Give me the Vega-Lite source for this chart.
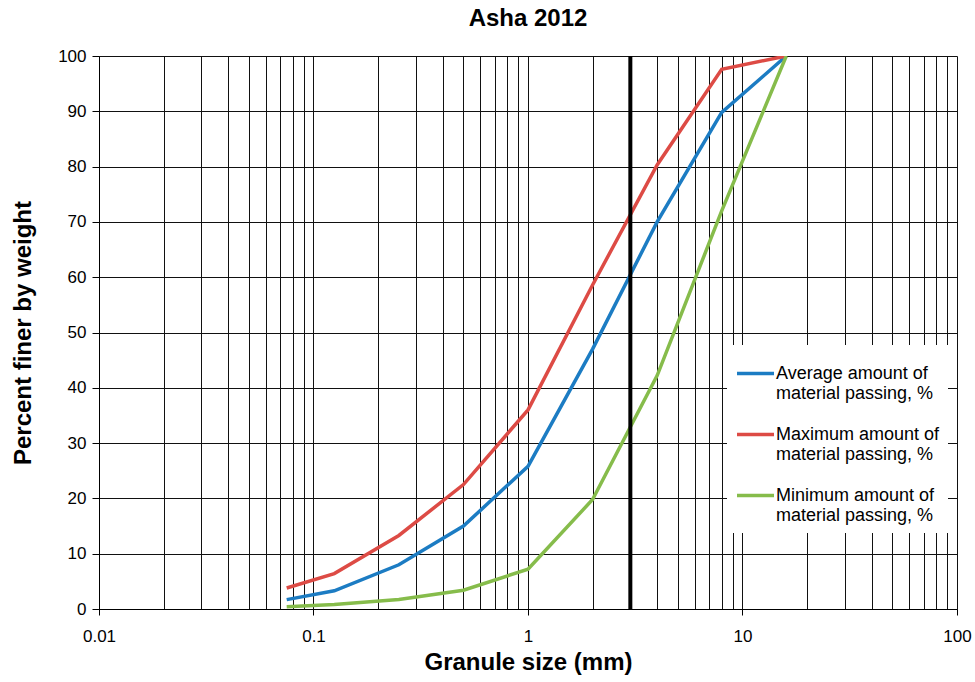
{
  "$schema": "https://vega.github.io/schema/vega-lite/v6.json",
  "width": 858,
  "height": 553,
  "autosize": {"type": "none"},
  "padding": {"left": 99, "top": 56, "right": 18, "bottom": 73},
  "background": "white",
  "title": {"text": "Asha 2012", "fontSize": 24, "font": "Liberation Sans", "fontWeight": "bold", "color": "#000", "offset": 16},
  "config": {
    "font": "Liberation Sans",
    "view": {"stroke": null},
    "axis": {"labelFont": "Liberation Sans", "titleFont": "Liberation Sans", "labelColor": "#000", "titleColor": "#000", "labelFontSize": 17, "titleFontSize": 24, "titleFontWeight": "bold", "domainColor": "#000", "tickColor": "#000", "gridColor": "#111", "gridOpacity": 1, "gridWidth": 1}
  },
  "datasets": {
    "curves": [
      {"size": 0.075, "pct": 1.7, "series": "Average amount of material passing, %"},
      {"size": 0.125, "pct": 3.3, "series": "Average amount of material passing, %"},
      {"size": 0.25, "pct": 8.0, "series": "Average amount of material passing, %"},
      {"size": 0.5, "pct": 15.0, "series": "Average amount of material passing, %"},
      {"size": 1, "pct": 25.8, "series": "Average amount of material passing, %"},
      {"size": 2, "pct": 47.0, "series": "Average amount of material passing, %"},
      {"size": 4, "pct": 70.0, "series": "Average amount of material passing, %"},
      {"size": 8, "pct": 89.8, "series": "Average amount of material passing, %"},
      {"size": 16, "pct": 100, "series": "Average amount of material passing, %"},
      {"size": 0.075, "pct": 3.8, "series": "Maximum amount of material passing, %"},
      {"size": 0.125, "pct": 6.4, "series": "Maximum amount of material passing, %"},
      {"size": 0.25, "pct": 13.3, "series": "Maximum amount of material passing, %"},
      {"size": 0.5, "pct": 22.5, "series": "Maximum amount of material passing, %"},
      {"size": 1, "pct": 36.0, "series": "Maximum amount of material passing, %"},
      {"size": 2, "pct": 58.6, "series": "Maximum amount of material passing, %"},
      {"size": 4, "pct": 80.3, "series": "Maximum amount of material passing, %"},
      {"size": 8, "pct": 97.6, "series": "Maximum amount of material passing, %"},
      {"size": 16, "pct": 100, "series": "Maximum amount of material passing, %"},
      {"size": 0.075, "pct": 0.4, "series": "Minimum amount of material passing, %"},
      {"size": 0.125, "pct": 0.8, "series": "Minimum amount of material passing, %"},
      {"size": 0.25, "pct": 1.7, "series": "Minimum amount of material passing, %"},
      {"size": 0.5, "pct": 3.4, "series": "Minimum amount of material passing, %"},
      {"size": 1, "pct": 7.2, "series": "Minimum amount of material passing, %"},
      {"size": 2, "pct": 19.8, "series": "Minimum amount of material passing, %"},
      {"size": 4, "pct": 42.2, "series": "Minimum amount of material passing, %"},
      {"size": 8, "pct": 72.0, "series": "Minimum amount of material passing, %"},
      {"size": 16, "pct": 100, "series": "Minimum amount of material passing, %"}
    ],
    "marker": [{"size": 3}]
  },
  "layer": [
    {
      "data": {"name": "curves"},
      "mark": {"type": "line", "strokeWidth": 3.5, "clip": true},
      "encoding": {
        "x": {
          "field": "size", "type": "quantitative",
          "scale": {"type": "log", "domain": [0.01, 100], "nice": false},
          "axis": {
            "title": "Granule size (mm)",
            "values": [0.01,0.02,0.03,0.04,0.05,0.06,0.07,0.08,0.09,0.1,0.2,0.3,0.4,0.5,0.6,0.7,0.8,0.9,1,2,3,4,5,6,7,8,9,10,20,30,40,50,60,70,80,90,100],
            "format": "~g",
            "labelExpr": "abs(log(datum.value)/LN10 - round(log(datum.value)/LN10)) < 1e-6 ? datum.label : ''",
            "tickOpacity": {"condition": {"test": "abs(log(datum.value)/LN10 - round(log(datum.value)/LN10)) < 1e-6", "value": 1}, "value": 0},
            "tickSize": 6,
            "labelPadding": 13,
            "titlePadding": 6,
            "labelFlush": false,
            "labelOverlap": false
          }
        },
        "y": {
          "field": "pct", "type": "quantitative",
          "scale": {"domain": [0, 100], "nice": false},
          "axis": {"title": "Percent finer by weight", "values": [0,10,20,30,40,50,60,70,80,90,100], "tickSize": 7, "labelPadding": 6, "titlePadding": 22}
        },
        "color": {
          "field": "series", "type": "nominal",
          "scale": {"domain": ["Average amount of material passing, %", "Maximum amount of material passing, %", "Minimum amount of material passing, %"], "range": ["#1c7cc3", "#dd4b45", "#86bc4b"]},
          "legend": {
            "title": null,
            "orient": "none",
            "legendX": 628,
            "legendY": 289,
            "fillColor": "white",
            "padding": 8,
            "symbolType": "stroke",
            "symbolSize": 1369,
            "symbolStrokeWidth": 3.5,
            "labelFontSize": 18,
            "labelFont": "Liberation Sans",
            "labelColor": "#000",
            "labelLimit": 300,
            "labelBaseline": "middle",
            "rowPadding": 11,
            "labelOffset": 0,
            "labelExpr": "[slice(datum.label, 0, indexof(datum.label, 'material') - 1), slice(datum.label, indexof(datum.label, 'material'))]"
          }
        }
      }
    },
    {
      "data": {"name": "marker"},
      "mark": {"type": "rule", "strokeWidth": 4, "color": "#000"},
      "encoding": {
        "x": {"field": "size", "type": "quantitative"}
      }
    }
  ]
}
